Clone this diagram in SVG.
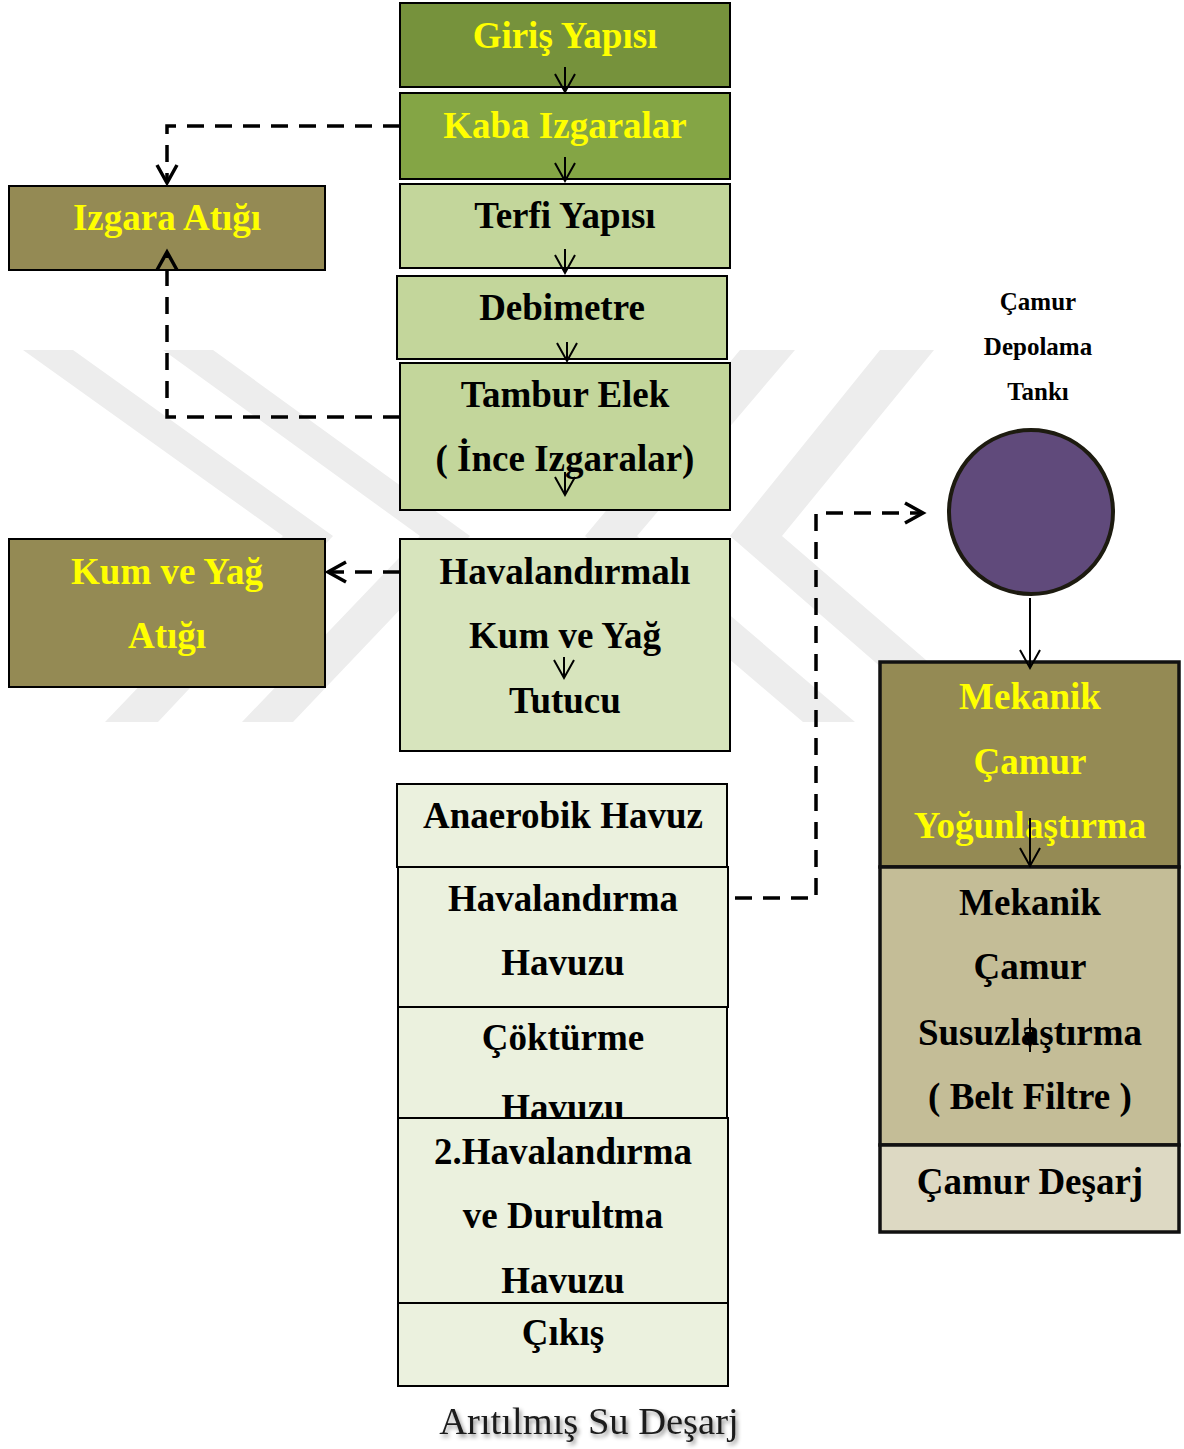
<svg xmlns="http://www.w3.org/2000/svg" width="1184" height="1449" viewBox="0 0 1184 1449">
  <style>
    text { font-family: "Liberation Serif", "Times New Roman", serif; font-weight: bold; font-size: 37px; text-anchor: middle; fill: #000000; }
    .yl { fill: #ffff00; }
    .sm { font-size: 25px; }
    .plain { font-weight: normal; font-size: 38.5px; fill: #1a1a1a; }
    .box { stroke: #000000; stroke-width: 2; }
    .heavy { stroke: #111111; stroke-width: 3.5; }
    .flow { fill: none; stroke: #000000; stroke-width: 2; }
    .dash { fill: none; stroke: #000000; stroke-width: 3.5; stroke-dasharray: 17 11; }
    .wm { fill: #ededed; }
  </style>
  <defs>
    <marker id="tip" markerUnits="userSpaceOnUse" markerWidth="24" markerHeight="24" refX="0" refY="0" orient="auto" overflow="visible">
      <path d="M-18,-10 L0,0 L-18,10" fill="none" stroke="#000000" stroke-width="2"/>
    </marker>
    <marker id="tipBold" markerUnits="userSpaceOnUse" markerWidth="24" markerHeight="24" refX="0" refY="0" orient="auto" overflow="visible">
      <path d="M-18,-10 L0,0 L-18,10" fill="none" stroke="#000000" stroke-width="3.5" stroke-dasharray="none"/>
    </marker>
    <filter id="shadow" x="-10%" y="-30%" width="120%" height="160%">
      <feDropShadow dx="2" dy="3" stdDeviation="2" flood-color="#000000" flood-opacity="0.45"/>
    </filter>
  </defs>

  <rect width="1184" height="1449" fill="#ffffff"/>

  <!-- background emblem -->
  <g id="emblem">
    <polygon class="wm" points="23,350 73,350 333,536 158,722 105,722 283,536"/>
    <polygon class="wm" points="163,350 213,350 470,536 293,722 242,722 420,536"/>
    <polygon class="wm" points="740,350 795,350 637,536 855,722 803,722 585,536"/>
    <polygon class="wm" points="880,350 934,350 782,536 998,722 944,722 730,536"/>
  </g>

  <!-- main treatment line -->
  <g id="n-giris">
    <rect class="box" x="400" y="3" width="330" height="84" fill="#76923c"/>
    <text class="yl" x="565" y="48">Giriş Yapısı</text>
  </g>
  <g id="n-kaba">
    <rect class="box" x="400" y="93" width="330" height="86" fill="#84a545"/>
    <text class="yl" x="565" y="138">Kaba Izgaralar</text>
  </g>
  <g id="n-terfi">
    <rect class="box" x="400" y="184" width="330" height="84" fill="#c3d69b"/>
    <text x="565" y="228">Terfi Yapısı</text>
  </g>
  <g id="n-debimetre">
    <rect class="box" x="397" y="276" width="330" height="83" fill="#c3d69b"/>
    <text x="562" y="320">Debimetre</text>
  </g>
  <g id="n-tambur">
    <rect class="box" x="400" y="363" width="330" height="147" fill="#c3d69b"/>
    <text x="565" y="407">Tambur Elek</text>
    <text x="565" y="471">( İnce Izgaralar)</text>
  </g>
  <g id="n-kum-tutucu">
    <rect class="box" x="400" y="539" width="330" height="212" fill="#d7e4bd"/>
    <text x="565" y="584">Havalandırmalı</text>
    <text x="565" y="648">Kum ve Yağ</text>
    <text x="565" y="713">Tutucu</text>
  </g>

  <!-- waste outputs -->
  <g id="n-izgara-atigi">
    <rect class="box" x="9" y="186" width="316" height="84" fill="#948a54"/>
    <text class="yl" x="167" y="230">Izgara Atığı</text>
  </g>
  <g id="n-kum-atigi">
    <rect class="box" x="9" y="539" width="316" height="148" fill="#948a54"/>
    <text class="yl" x="167" y="584">Kum ve Yağ</text>
    <text class="yl" x="167" y="648">Atığı</text>
  </g>

  <!-- biological stages -->
  <g id="n-anaerobik">
    <rect class="box" x="397" y="784" width="330" height="83" fill="#ebf1de"/>
    <text x="563" y="828">Anaerobik Havuz</text>
  </g>
  <g id="n-havalandirma">
    <rect class="box" x="398" y="867" width="330" height="140" fill="#ebf1de"/>
    <text x="563" y="911">Havalandırma</text>
    <text x="563" y="975">Havuzu</text>
  </g>
  <g id="n-cokturme">
    <rect class="box" x="398" y="1007" width="329" height="111" fill="#ebf1de"/>
    <text x="563" y="1050">Çöktürme</text>
    <text x="563" y="1120">Havuzu</text>
  </g>
  <g id="n-havalandirma2">
    <rect class="box" x="398" y="1118" width="330" height="185" fill="#ebf1de"/>
    <text x="563" y="1164">2.Havalandırma</text>
    <text x="563" y="1228">ve Durultma</text>
    <text x="563" y="1293">Havuzu</text>
  </g>
  <g id="n-cikis">
    <rect class="box" x="398" y="1303" width="330" height="83" fill="#ebf1de"/>
    <text x="563" y="1345">Çıkış</text>
  </g>
  <g id="n-desarj-su">
    <text class="plain" x="589" y="1434" filter="url(#shadow)">Arıtılmış Su Deşarj</text>
  </g>

  <!-- sludge line -->
  <g id="n-tank">
    <text class="sm" x="1038" y="310">Çamur</text>
    <text class="sm" x="1038" y="355">Depolama</text>
    <text class="sm" x="1038" y="400">Tankı</text>
    <circle cx="1031" cy="512" r="82" fill="#604a7b" stroke="#1d1b10" stroke-width="4"/>
  </g>
  <g id="n-yogunlastirma">
    <rect class="heavy" x="880" y="662" width="299" height="205" fill="#948a54"/>
    <text class="yl" x="1030" y="709">Mekanik</text>
    <text class="yl" x="1030" y="774">Çamur</text>
    <text class="yl" x="1030" y="838">Yoğunlaştırma</text>
  </g>
  <g id="n-susuzlastirma">
    <rect class="heavy" x="880" y="867" width="299" height="278" fill="#c4bd97"/>
    <text x="1030" y="915">Mekanik</text>
    <text x="1030" y="979">Çamur</text>
    <text x="1030" y="1045">Susuzlaştırma</text>
    <text x="1030" y="1109">( Belt Filtre )</text>
  </g>
  <g id="n-camur-desarj">
    <rect class="heavy" x="880" y="1145" width="299" height="87" fill="#ddd9c3"/>
    <text x="1030" y="1194">Çamur Deşarj</text>
  </g>

  <!-- connectors -->
  <g id="connectors">
    <path class="flow" d="M565,67 L565,92" marker-end="url(#tip)"/>
    <path class="flow" d="M565,157 L565,181" marker-end="url(#tip)"/>
    <path class="flow" d="M565,249 L565,273" marker-end="url(#tip)"/>
    <path class="flow" d="M567,342 L567,361" marker-end="url(#tip)"/>
    <path class="flow" d="M565,472 L565,495" marker-end="url(#tip)"/>
    <path class="flow" d="M564,657 L564,678" marker-end="url(#tip)"/>
    <path class="flow" d="M1030,598 L1030,668" marker-end="url(#tip)"/>
    <path class="flow" d="M1030,818 L1030,866" marker-end="url(#tip)"/>
    <path class="flow" d="M1030,1018 L1030,1052"/>
    <path d="M1024,1032 L1036,1032 L1030,1050 Z" fill="#000000"/>

    <path class="dash" d="M400,126 L167,126 L167,183" marker-end="url(#tipBold)"/>
    <path class="dash" d="M400,417 L167,417 L167,252" marker-end="url(#tipBold)"/>
    <path class="dash" d="M400,572 L328,572" marker-end="url(#tipBold)"/>
    <path class="dash" d="M735,898 L816,898 L816,513 L923,513" marker-end="url(#tipBold)"/>
  </g>
</svg>
